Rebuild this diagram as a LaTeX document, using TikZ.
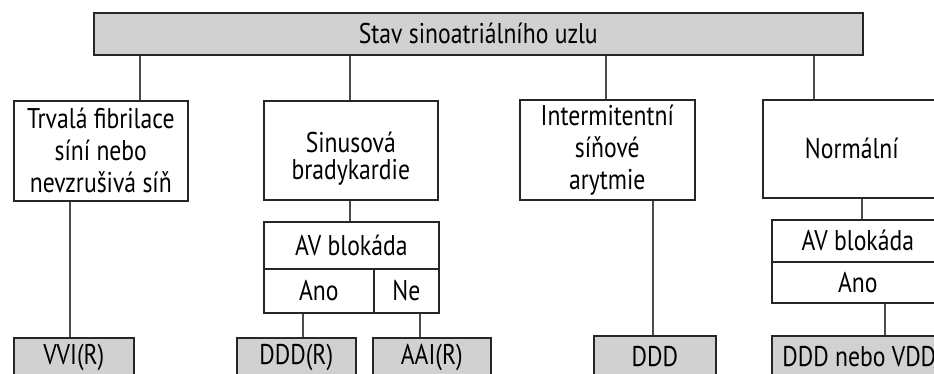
\documentclass[tikz,border=0pt]{standalone}
\usepackage{fontspec}
\setmainfont[FakeStretch=0.83]{PT Sans}
\begin{document}
\begin{tikzpicture}[x=1pt,y=-1pt,
  box/.style={draw=black!85, line width=1.6pt, inner sep=0pt, align=center, anchor=north west,
    font=\fontsize{28.5}{32}\selectfont},
  leaf/.style={box, fill=black!18},
  txt/.style={inner sep=0pt, align=center, font=\fontsize{28.5}{27}\selectfont},
  conn/.style={draw=black!70, line width=1.3pt}]
\useasboundingbox (0,0) rectangle (934,374);
\clip (0,0) rectangle (934,374);
\fill[white] (0,0) rectangle (934,374);
% top
\node[leaf, minimum width=769pt, minimum height=42pt] (top) at (93,12) {Stav sinoatriálního uzlu};
% level 1
\node[box, minimum width=174pt, minimum height=100pt] (b1) at (13,100) {Trvalá fibrilace\\síní nebo\\nevzrušivá síň};
\node[box, minimum width=174pt, minimum height=99pt] (b2) at (263,100) {};
\node[txt] (b2t) at ([yshift=-8pt]b2.center) {Sinusová\\bradykardie};
\node[box, minimum width=175pt, minimum height=100pt] (b3) at (519,99) {Intermitentní\\síňové\\arytmie};
\node[box, minimum width=178pt, minimum height=98pt] (b4) at (762,99) {Normální};
% AV blocks
\node[box, minimum width=175pt, minimum height=47pt] (avb1) at (263,221) {AV blokáda};
\node[box, minimum width=110pt, minimum height=44pt] (ano1) at (263,268) {Ano};
\node[box, minimum width=65pt, minimum height=44pt] (ne1) at (373,268) {Ne};
\node[box, minimum width=172pt, minimum height=42pt] (avb2) at (771,219) {AV blokáda};
\node[box, minimum width=172pt, minimum height=41pt] (ano2) at (771,261) {Ano};
% leaves (cut by the lower edge, as in the reference)
\node[leaf, minimum width=120pt, minimum height=39pt] (vvi) at (13,337) {VVI(R)};
\node[leaf, minimum width=119pt, minimum height=39pt] (dddr) at (236,337) {DDD(R)};
\node[leaf, minimum width=118pt, minimum height=39pt] (aai) at (372,337) {AAI(R)};
\node[leaf, minimum width=122pt, minimum height=41pt] (ddd) at (593,335) {DDD};
\node[leaf, minimum width=175pt, minimum height=41pt] (dddv) at (771,335) {DDD nebo VDD};
% connector x positions
\coordinate (c1) at (140,0);
\coordinate (c2) at (350,0);
\coordinate (c3) at (606,0);
\coordinate (c4) at (814,0);
\coordinate (c5) at (70,0);
\coordinate (c6) at (303,0);
\coordinate (c7) at (420,0);
\coordinate (c8) at (653,0);
\coordinate (c9) at (862,0);
\coordinate (c10) at (885,0);
\draw[conn] (top.south -| c1) -- (b1.north -| c1);
\draw[conn] (top.south -| c2) -- (b2.north -| c2);
\draw[conn] (top.south -| c3) -- (b3.north -| c3);
\draw[conn] (top.south -| c4) -- (b4.north -| c4);
\draw[conn] (b1.south -| c5) -- (vvi.north -| c5);
\draw[conn] (b2.south -| c2) -- (avb1.north -| c2);
\draw[conn] (ano1.south -| c6) -- (dddr.north -| c6);
\draw[conn] (ne1.south -| c7) -- (aai.north -| c7);
\draw[conn] (b3.south -| c8) -- (ddd.north -| c8);
\draw[conn] (b4.south -| c9) -- (avb2.north -| c9);
\draw[conn] (ano2.south -| c10) -- (dddv.north -| c10);
\end{tikzpicture}
\end{document}
